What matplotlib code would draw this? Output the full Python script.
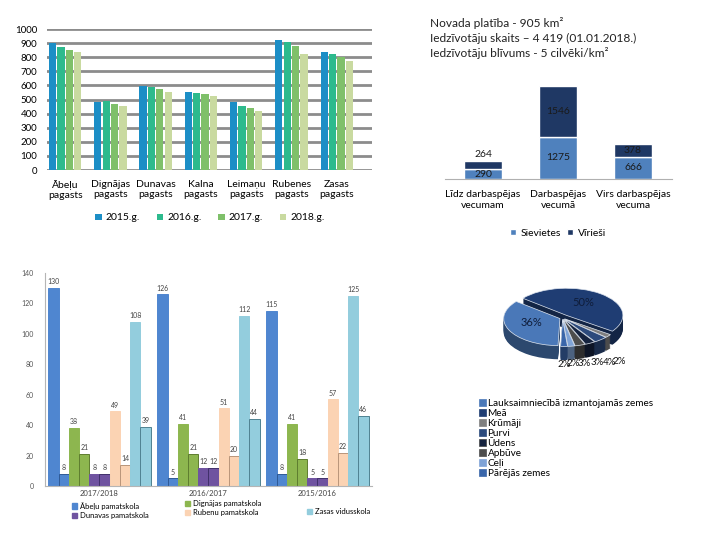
import matplotlib
matplotlib.use("Agg")
import matplotlib.pyplot as plt
import numpy as np
from matplotlib.patches import Patch
import matplotlib.colors as mcolors

plt.rcParams['font.family'] = ['Lato', 'DejaVu Sans']

# ---------------- data ----------------
pag_categories = ['Ābeļu\npagasts', 'Dignājas\npagasts', 'Dunavas\npagasts', 'Kalna\npagasts',
                  'Leimaņu\npagasts', 'Rubenes\npagasts', 'Zasas\npagasts']
pag_years = ['2015.g.', '2016.g.', '2017.g.', '2018.g.']
pag_2015 = [900, 480, 595, 552, 482, 920, 835]
pag_2016 = [875, 487, 588, 545, 452, 905, 820]
pag_2017 = [850, 465, 572, 537, 437, 880, 800]
pag_2018 = [840, 452, 552, 522, 415, 820, 772]
pag_ticks = list(range(0, 1001, 100))

info_lines = ['Novada platība - 905 km²',
              'Iedzīvotāju skaits – 4 419 (01.01.2018.)',
              'Iedzīvotāju blīvums - 5 cilvēki/km²']

age_groups = ['Līdz darbaspējas\nvecumam', 'Darbaspējas\nvecumā', 'Virs darbaspējas\nvecuma']
age_series = ['Sievietes', 'Vīrieši']
women = [290, 1275, 666]
men = [264, 1546, 378]

land_labels = ['Lauksaimniecībā izmantojamās zemes', 'Meā', 'Krūmāji', 'Purvi',
               'Ūdens', 'Apbūve', 'Ceļi', 'Pārējās zemes']
land_pct = [36, 50, 2, 4, 3, 3, 2, 2]

school_years = ['2017/2018', '2016/2017', '2015/2016']
schools = ['Ābeļu pamatskola', 'Dignājas pamatskola', 'Dunavas pamatskola',
           'Rubenu pamatskola', 'Zasas vidusskola']
abelu_a = [130, 126, 115]
abelu_b = [8, 5, 8]
dign_a = [38, 41, 41]
dign_b = [21, 21, 18]
dun_a = [8, 12, 5]
dun_b = [8, 12, 5]
rub_a = [49, 51, 57]
rub_b = [14, 20, 22]
zas_a = [108, 112, 125]
zas_b = [39, 44, 46]
school_ticks = list(range(0, 141, 20))

# ---------------- figure ----------------
W, H = 720, 540
fig = plt.figure(figsize=(7.2, 5.4), dpi=100)


def px_axes(x0, y0, x1, y1):
    return fig.add_axes([x0 / W, 1 - y1 / H, (x1 - x0) / W, (y1 - y0) / H])


# ---- chart 1: population by parish ----
ax1 = px_axes(47, 29, 372, 170)
pag_colors = ['#1c8ec6', '#2dba8d', '#7fc06a', '#c9daa0']
x = np.arange(len(pag_categories))
step, bw = 0.185, 0.16
handles1 = []
for i, vals in enumerate([pag_2015, pag_2016, pag_2017, pag_2018]):
    b = ax1.bar(x + (i - 1.5) * step, vals, bw, color=pag_colors[i], zorder=3, label=pag_years[i])
    handles1.append(b)
ax1.set_ylim(0, 1000)
ax1.set_xlim(-0.4, 6.78)
ax1.set_yticks(pag_ticks)
ax1.yaxis.grid(True, color='#8c8c8c', lw=2, zorder=0)
for s in ax1.spines.values():
    s.set_visible(False)
ax1.tick_params(length=0, labelsize=7, pad=7)
ax1.set_xticks(x, pag_categories)
for t in ax1.get_xticklabels():
    t.set_fontsize(7.5)
    t.set_linespacing(1.2)
fig.legend(handles=handles1, loc='center', bbox_to_anchor=(210 / W, 1 - 218 / H), ncol=4,
           frameon=False, fontsize=7.5, handlelength=0.6, handleheight=0.6,
           handletextpad=0.4, columnspacing=1.6)

# ---- info text ----
for i, line in enumerate(info_lines):
    fig.text(430 / W, 1 - (23 + 15 * i) / H, line, fontsize=8.6, va='center', color='#222222')

# ---- chart 2: age structure ----
ax2 = px_axes(445, 60, 672, 179)
xg = np.arange(len(age_groups))
c_w, c_m = '#4f81bd', '#1f3864'
b_w = ax2.bar(xg, women, 0.5, color=c_w, edgecolor='white', lw=1, label=age_series[0])
b_m = ax2.bar(xg, men, 0.5, bottom=women, color=c_m, edgecolor='white', lw=1, label=age_series[1])
ax2.set_ylim(0, 3600)
ax2.set_xlim(-0.507, 2.52)
for s in ['top', 'right', 'left']:
    ax2.spines[s].set_visible(False)
ax2.spines['bottom'].set_color('#b0b0b0')
ax2.set_yticks([])
ax2.set_xticks(xg, age_groups)
ax2.tick_params(length=0, labelsize=7.5, pad=8)
for t in ax2.get_xticklabels():
    t.set_linespacing(1.3)
for i in range(len(xg)):
    ax2.text(xg[i], women[i] / 2, str(women[i]), ha='center', va='center', fontsize=7.5, color='#1a1a1a')
    if men[i] < 300:
        ax2.text(xg[i], women[i] + men[i] + 60, str(men[i]), ha='center', va='bottom', fontsize=7.5, color='#1a1a1a')
    else:
        ax2.text(xg[i], women[i] + men[i] / 2, str(men[i]), ha='center', va='center', fontsize=7.5, color='#1a1a1a')
fig.legend(handles=[b_w, b_m], loc='center', bbox_to_anchor=(558 / W, 1 - 233 / H), ncol=2,
           frameon=False, fontsize=7.5, handlelength=0.6, handleheight=0.6,
           handletextpad=0.4, columnspacing=0.6)

# ---- chart 3: land use pie (pseudo 3D) ----
ax3 = px_axes(495, 280, 630, 375)
land_colors = ['#4a78b8', '#1f3d73', '#7f7f7f', '#2c4a7c', '#15233f', '#4d4d4d', '#7fa3d6', '#3a66aa']
dark_colors = [tuple(np.array(mcolors.to_rgb(c)) * 0.6) for c in land_colors]
explode = [0.05, 0.12, 0.05, 0.05, 0.05, 0.05, 0.05, 0.05]
depth = 0.5
start = 268
for k in np.linspace(depth, 0.02, 16):
    ax3.pie(land_pct, colors=dark_colors, explode=explode, startangle=start, counterclock=False,
            center=(0, -k), radius=1.0, wedgeprops=dict(linewidth=0))
wedges, _ = ax3.pie(land_pct, colors=land_colors, explode=explode, startangle=start, counterclock=False,
                    center=(0, 0), radius=1.0,
                    wedgeprops=dict(edgecolor='#dfe6f0', linewidth=0.5))
ax3.set_aspect('auto')
ax3.set_xlim(-1.2, 1.2)
ax3.set_ylim(-2.1, 1.4)
ax3.axis('off')
for i, w in enumerate(wedges):
    mid = np.deg2rad((w.theta1 + w.theta2) / 2)
    if land_pct[i] >= 10:
        r = 0.6
        ax3.text(r * np.cos(mid), r * np.sin(mid) + 0.1, f'{land_pct[i]}%', ha='center', va='center',
                 fontsize=8, color='#0f1d3a')
    else:
        ax3.text(1.3 * np.cos(mid), -1.7 + 0.12 * np.cos(mid), f'{land_pct[i]}%', ha='center', va='center',
                 fontsize=7, color='#111111')
land_handles = [Patch(facecolor=c, edgecolor='#444444' if j == 4 else c, lw=0.5) for j, c in enumerate(land_colors)]
fig.legend(handles=land_handles, labels=land_labels, loc='upper left',
           bbox_to_anchor=(479 / W, 1 - 399 / H), frameon=False, fontsize=7.2,
           handlelength=0.7, handleheight=0.7, handletextpad=0.15, labelspacing=0.1,
           borderaxespad=0, borderpad=0)

# ---- chart 4: schools ----
ax4 = px_axes(45, 273, 372, 486)
sc_colors = ['#4f86d0', '#8db64f', '#6f53a0', '#fbd3b3', '#93cddd']
sc_edges = ['#2f5a96', '#5e7d30', '#40306a', '#b8957a', '#4f8191']
series = [(abelu_a, abelu_b), (dign_a, dign_b), (dun_a, dun_b), (rub_a, rub_b), (zas_a, zas_b)]
xs = np.arange(len(school_years))
bw4 = 0.0936
school_handles = []
for s_i, (va, vb) in enumerate(series):
    for k, vals in enumerate([va, vb]):
        j = 2 * s_i + k
        cont = ax4.bar(xs + (j - 4.5) * bw4, vals, bw4, color=sc_colors[s_i],
                       edgecolor=sc_edges[s_i] if k == 1 else sc_colors[s_i], lw=0.7)
        ax4.bar_label(cont, fontsize=5, padding=2, color='#444444')
        if k == 0:
            school_handles.append(Patch(color=sc_colors[s_i], label=schools[s_i]))
ax4.set_ylim(0, 140)
ax4.set_xlim(-0.5, 2.5)
ax4.set_yticks(school_ticks)
ax4.set_xticks(xs, school_years)
for s in ['top', 'right']:
    ax4.spines[s].set_visible(False)
ax4.spines['left'].set_color('#b5b5b5')
ax4.spines['bottom'].set_color('#b5b5b5')
ax4.tick_params(axis='y', length=0, labelsize=5, labelcolor='#555555', pad=8)
ax4.tick_params(axis='x', length=0, labelsize=5.5, labelcolor='#444444', pad=3)

lkw = dict(frameon=False, fontsize=5.5, handlelength=0.7, handleheight=0.7,
           handletextpad=0.4, labelspacing=0.3, borderaxespad=0, borderpad=0)
l1 = fig.legend(handles=[school_handles[0], school_handles[2]], loc='upper left',
                bbox_to_anchor=(72 / W, 1 - 502 / H), **lkw)
l2 = fig.legend(handles=[school_handles[1], school_handles[3]], loc='upper left',
                bbox_to_anchor=(185 / W, 1 - 500 / H), **lkw)
l3 = fig.legend(handles=[school_handles[4]], loc='upper left',
                bbox_to_anchor=(307 / W, 1 - 508 / H), **lkw)

fig.savefig('out.png', dpi=100)
